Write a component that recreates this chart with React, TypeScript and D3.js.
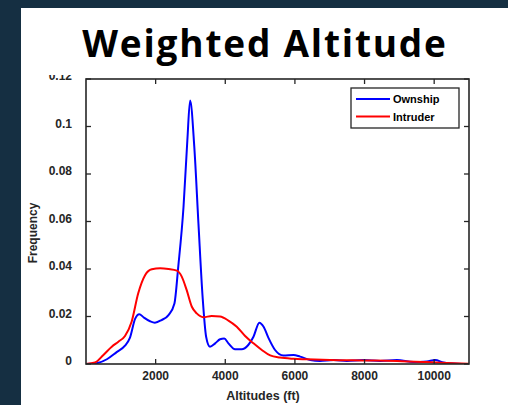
import React from "react";
import * as d3 from "d3";

const ownshipX = [0, 300, 600, 880, 1120, 1260, 1410, 1530, 1650, 1840, 1980, 2170, 2370, 2540, 2650, 2800, 2910, 2990, 3110, 3230, 3350, 3450, 3560, 3710, 3850, 3970, 4090, 4280, 4470, 4660, 4810, 4980, 5100, 5240, 5430, 5670, 5960, 6150, 6440, 6720, 7110, 7490, 7970, 8450, 8930, 9400, 9790, 10030, 10270, 10650, 11000];
const ownshipY = [0, 0.0003, 0.002, 0.005, 0.0077, 0.011, 0.019, 0.021, 0.0197, 0.018, 0.0174, 0.0185, 0.0206, 0.0255, 0.041, 0.066, 0.094, 0.111, 0.0915, 0.059, 0.028, 0.0115, 0.0073, 0.0087, 0.0104, 0.0107, 0.0087, 0.0062, 0.0062, 0.008, 0.0115, 0.0174, 0.0157, 0.011, 0.0059, 0.0036, 0.0038, 0.0031, 0.0017, 0.0013, 0.0017, 0.0013, 0.0017, 0.0013, 0.0017, 0.0008, 0.0011, 0.0017, 0.0006, 0.0001, 0];

const intruderX = [0, 260, 500, 740, 930, 1120, 1310, 1500, 1700, 1890, 2130, 2370, 2610, 2750, 2890, 3040, 3180, 3370, 3610, 3850, 4090, 4330, 4570, 4810, 5050, 5290, 5570, 5960, 6340, 7010, 7970, 8930, 9790, 10360, 11000];
const intruderY = [0, 0.0006, 0.0038, 0.0073, 0.0094, 0.0118, 0.0178, 0.0298, 0.0375, 0.0399, 0.0403, 0.04, 0.0393, 0.0368, 0.0312, 0.0241, 0.0213, 0.0197, 0.0202, 0.02, 0.0183, 0.0157, 0.0118, 0.0087, 0.0059, 0.0036, 0.0027, 0.0022, 0.002, 0.0017, 0.0015, 0.0013, 0.0008, 0.0004, 0.0001];

const xTicks = [2000, 4000, 6000, 8000, 10000];
const yTicks = [0, 0.02, 0.04, 0.06, 0.08, 0.1, 0.12];
const seriesNames = ["Ownship", "Intruder"];
const seriesColors = ["#0000ff", "#ff0000"];

export default function App() {
  const W = 508, H = 405;
  const left = 86, right = 469, top = 79, bottom = 364;
  const x = d3.scaleLinear().domain([0, 11000]).range([left, right]);
  const y = d3.scaleLinear().domain([0, 0.12]).range([bottom, top]);
  const line = d3
    .line<[number, number]>()
    .x((d) => x(d[0]))
    .y((d) => y(d[1]))
    .curve(d3.curveMonotoneX);
  const series = [
    ownshipX.map((v, i) => [v, ownshipY[i]] as [number, number]),
    intruderX.map((v, i) => [v, intruderY[i]] as [number, number]),
  ];
  const font = "'Liberation Sans', Arial, sans-serif";
  const tl = 5;
  return (
    <svg
      width={W}
      height={H}
      style={{ position: "absolute", left: 0, top: 0, display: "block" }}
    >
      <rect x={0} y={0} width={W} height={H} fill="#152f42" />
      <rect x={21} y={8} width={W - 21} height={H - 8} fill="#ffffff" />
      {/* y tick labels */}
      {yTicks.map((t) => (
        <text
          key={"yl" + t}
          x={left - 14}
          y={y(t) + 1}
          textAnchor="end"
          fontFamily={font}
          fontWeight="bold"
          fontSize={12}
          fill="#262626"
        >
          {t === 0 ? "0" : String(+t.toFixed(2))}
        </text>
      ))}
      {/* title background covering the top label */}
      <rect x={21} y={8} width={W - 21} height={67} fill="#ffffff" />
      <text
        x={265}
        y={57}
        textAnchor="middle"
        fontFamily="'Open Sans', sans-serif"
        fontWeight="bold"
        fontSize={37}
        letterSpacing={1.8}
        fill="#000000"
      >
        Weighted Altitude
      </text>
      {/* curves */}
      <g clipPath="url(#plotclip)">
        <defs>
          <clipPath id="plotclip">
            <rect x={left} y={top} width={right - left} height={bottom - top} />
          </clipPath>
        </defs>
        {series.map((s, i) => (
          <path
            key={"s" + i}
            d={line(s) || ""}
            fill="none"
            stroke={seriesColors[i]}
            strokeWidth={2}
            strokeLinejoin="round"
          />
        ))}
      </g>
      {/* axes box */}
      <rect
        x={left}
        y={top}
        width={right - left}
        height={bottom - top}
        fill="none"
        stroke="#262626"
        strokeWidth={1.6}
      />
      {xTicks.map((t) => (
        <g key={"xt" + t}>
          <line x1={x(t)} x2={x(t)} y1={bottom} y2={bottom - tl} stroke="#262626" strokeWidth={1.3} />
          <line x1={x(t)} x2={x(t)} y1={top} y2={top + tl} stroke="#262626" strokeWidth={1.3} />
          <text
            x={x(t)}
            y={380}
            textAnchor="middle"
            fontFamily={font}
            fontWeight="bold"
            fontSize={12}
            fill="#262626"
          >
            {t}
          </text>
        </g>
      ))}
      {yTicks.map((t) => (
        <g key={"yt" + t}>
          <line x1={left} x2={left + tl} y1={y(t)} y2={y(t)} stroke="#262626" strokeWidth={1.3} />
          <line x1={right} x2={right - tl} y1={y(t)} y2={y(t)} stroke="#262626" strokeWidth={1.3} />
        </g>
      ))}
      <text
        x={263}
        y={400}
        textAnchor="middle"
        fontFamily={font}
        fontWeight="bold"
        fontSize={12.5}
        fill="#262626"
      >
        Altitudes (ft)
      </text>
      <text
        transform={`translate(37,233) rotate(-90)`}
        textAnchor="middle"
        fontFamily={font}
        fontWeight="bold"
        fontSize={12}
        fill="#262626"
      >
        Frequency
      </text>
      {/* legend */}
      <rect x={351} y={88} width={108} height={40} fill="#ffffff" stroke="#262626" strokeWidth={1.3} />
      {seriesNames.map((n, i) => (
        <g key={"lg" + n}>
          <line x1={356} x2={390} y1={99 + i * 17.5} y2={99 + i * 17.5} stroke={seriesColors[i]} strokeWidth={2} />
          <text
            x={393}
            y={99 + i * 17.5 + 4}
            fontFamily={font}
            fontWeight="bold"
            fontSize={11}
            fill="#000000"
          >
            {n}
          </text>
        </g>
      ))}
    </svg>
  );
}
